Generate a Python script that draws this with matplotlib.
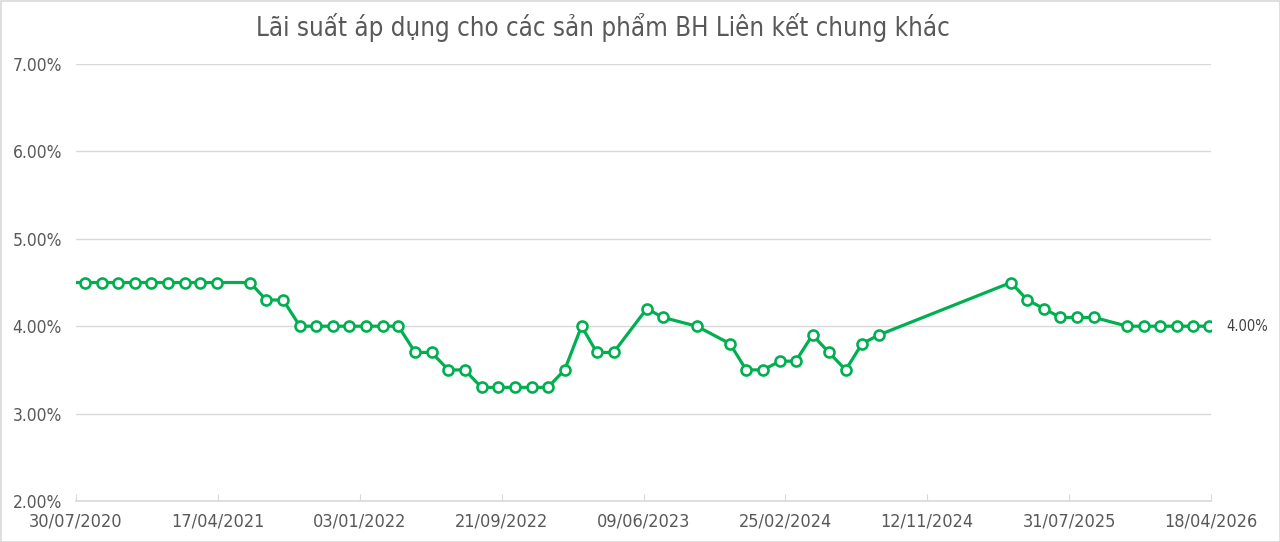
import matplotlib
matplotlib.use("Agg")
import matplotlib.pyplot as plt
from matplotlib.patches import Rectangle
import numpy as np
import datetime as dt

# ---- data ----
dates = [
    "2020-07-15", "2020-08-15", "2020-09-15", "2020-10-15", "2020-11-15", "2020-12-15",
    "2021-01-15", "2021-02-15", "2021-03-15", "2021-04-15", "2021-06-15", "2021-07-15",
    "2021-08-15", "2021-09-15", "2021-10-15", "2021-11-15", "2021-12-15", "2022-01-15",
    "2022-02-15", "2022-03-15", "2022-04-15", "2022-05-15", "2022-06-15", "2022-07-15",
    "2022-08-15", "2022-09-15", "2022-10-15", "2022-11-15", "2022-12-15", "2023-01-15",
    "2023-02-15", "2023-03-15", "2023-04-15", "2023-06-15", "2023-07-15", "2023-09-15",
    "2023-11-15", "2023-12-15", "2024-01-15", "2024-02-15", "2024-03-15", "2024-04-15",
    "2024-05-15", "2024-06-15", "2024-07-15", "2024-08-15", "2025-04-15", "2025-05-15",
    "2025-06-15", "2025-07-15", "2025-08-15", "2025-09-15", "2025-11-15", "2025-12-15",
    "2026-01-15", "2026-02-15", "2026-03-15", "2026-04-15",
]
rates = [
    4.5, 4.5, 4.5, 4.5, 4.5, 4.5,
    4.5, 4.5, 4.5, 4.5, 4.5, 4.3,
    4.3, 4.0, 4.0, 4.0, 4.0, 4.0,
    4.0, 4.0, 3.7, 3.7, 3.5, 3.5,
    3.3, 3.3, 3.3, 3.3, 3.3, 3.5,
    4.0, 3.7, 3.7, 4.2, 4.1, 4.0,
    3.8, 3.5, 3.5, 3.6, 3.6, 3.9,
    3.7, 3.5, 3.8, 3.9, 4.5, 4.3,
    4.2, 4.1, 4.1, 4.1, 4.0, 4.0,
    4.0, 4.0, 4.0, 4.0,
]
title = "Lãi suất áp dụng cho các sản phẩm BH Liên kết chung khác"
y_ticks = [2, 3, 4, 5, 6, 7]
x_start = "2020-07-30"
x_tick_step_days = 261
n_x_ticks = 9

# ---- styling ----
plt.rcParams["font.family"] = ["DejaVu Sans"]
plt.rcParams["font.stretch"] = "condensed"
GREEN = "#00B050"
TXT = "#595959"
GRID = "#D9D9D9"

x = [dt.datetime.strptime(d, "%Y-%m-%d") for d in dates]
y = np.array(rates)

fig = plt.figure(figsize=(12.8, 5.42), dpi=100)
ax = fig.add_axes([76/1280, 1-501/542, (1211-76)/1280, (501-64)/542])

ax.plot(x, y, color=GREEN, lw=2.3, marker="o", ms=7.2, mfc="white", mec=GREEN, mew=1.9,
        markevery=list(range(1, len(x))), solid_joinstyle="round", zorder=3)

x0 = dt.datetime.strptime(x_start, "%Y-%m-%d")
xticks = [x0 + dt.timedelta(days=x_tick_step_days * i) for i in range(n_x_ticks)]
ax.set_xlim(xticks[0], xticks[-1])
ax.set_xticks(xticks)
ax.set_xticklabels([t.strftime("%d/%m/%Y") for t in xticks])
ax.set_ylim(y_ticks[0], y_ticks[-1])
ax.set_yticks(y_ticks)
ax.set_yticklabels([f"{v:.2f}%" for v in y_ticks])

ax.grid(axis="y", color=GRID, lw=1)
ax.set_axisbelow(True)
for s in ["top", "right", "left"]:
    ax.spines[s].set_visible(False)
ax.spines["bottom"].set_color(GRID)
ax.spines["bottom"].set_linewidth(1.2)
ax.tick_params(axis="x", direction="in", length=5, color=GRID, labelsize=13, labelcolor=TXT, pad=8)
ax.tick_params(axis="y", length=0, labelsize=12.5, labelcolor=TXT, pad=10)

# data label for last point
ax.annotate(f"{y[-1]:.2f}%", xy=(x[-1], y[-1]), xytext=(12, 0), textcoords="offset points",
            ha="left", va="center", fontsize=10.5, color="#404040")

fig.text(603/1280, 1-28/542, title, ha="center", va="center", fontsize=18.5, color=TXT)

# chart border
fig.patches.append(Rectangle((0.5/1280, 0.5/542), 1-1/1280, 1-1/542, transform=fig.transFigure,
                             fill=False, ec=GRID, lw=1.2))

fig.savefig("out.png", dpi=100)
